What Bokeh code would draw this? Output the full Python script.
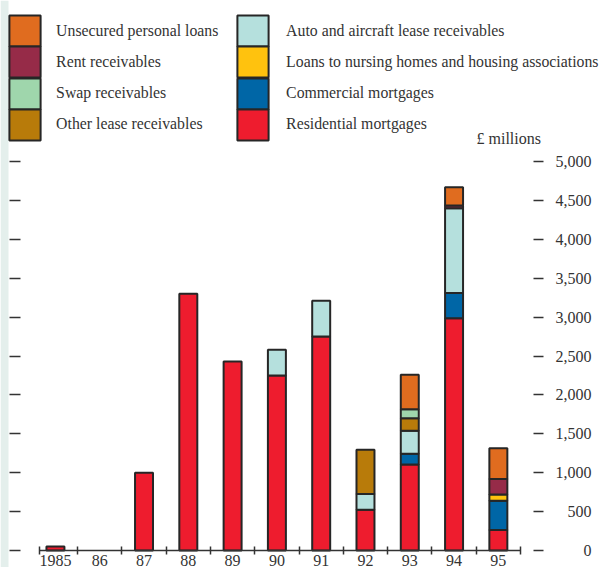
from bokeh.plotting import figure
from bokeh.models import (Range1d, FixedTicker, LinearAxis, Legend, LegendItem, Label,
                          BoxAnnotation, ColumnDataSource)
from bokeh.core.properties import value
from bokeh.transform import stack
from bokeh.embed import file_html
from bokeh.resources import INLINE

# Securitised assets by type, £ millions
years = ["1985", "86", "87", "88", "89", "90", "91", "92", "93", "94", "95"]

residential = [50, 0, 1000, 3300, 2430, 2250, 2750, 525, 1105, 2985, 265]
commercial = [0, 0, 0, 0, 0, 0, 0, 0, 140, 325, 375]
nursing = [0, 0, 0, 0, 0, 0, 0, 0, 0, 0, 80]
auto_aircraft = [0, 0, 0, 0, 0, 330, 460, 200, 295, 1090, 0]
other_lease = [0, 0, 0, 0, 0, 0, 0, 570, 160, 0, 0]
swap = [0, 0, 0, 0, 0, 0, 0, 0, 115, 0, 0]
rent = [0, 0, 0, 0, 0, 0, 0, 0, 0, 35, 200]
unsecured = [0, 0, 0, 0, 0, 0, 0, 0, 445, 235, 395]

y_ticks = [0, 500, 1000, 1500, 2000, 2500, 3000, 3500, 4000, 4500, 5000]

# stacking order, bottom to top
series = [
    ("residential", "Residential mortgages", residential, "#ee1c2e"),
    ("commercial", "Commercial mortgages", commercial, "#0066a6"),
    ("nursing", "Loans to nursing homes and housing associations", nursing, "#ffc20e"),
    ("auto_aircraft", "Auto and aircraft lease receivables", auto_aircraft, "#b5e0dd"),
    ("other_lease", "Other lease receivables", other_lease, "#b87b0a"),
    ("swap", "Swap receivables", swap, "#9fd6ac"),
    ("rent", "Rent receivables", rent, "#962b48"),
    ("unsecured", "Unsecured personal loans", unsecured, "#e06c1f"),
]
labels = {s[0]: s[1] for s in series}
values_of = {s[0]: s[2] for s in series}

# legend layout: two columns, top to bottom
legend_columns = [
    ["unsecured", "rent", "swap", "other_lease"],
    ["auto_aircraft", "nursing", "commercial", "residential"],
]

FONT = "Liberation Serif"
INK = "#333333"
OUTLINE = "#262626"
W, H = 601, 567

# The plot area fills the whole canvas; axes sit at fixed data positions.
# Category axis runs from x0 to x1 (category units) across pixels 39..520,
# the value axis 0..5000 across pixels 550..161.
x0, x1 = -0.36, len(years) - 0.5
px_left, px_right = 39, 520
ux = (x1 - x0) / (px_right - px_left)
py_zero, py_top = 550, 161
uy = 5000 / (py_zero - py_top)

p = figure(width=W, height=H, output_backend="svg", toolbar_location=None,
           x_range=Range1d(x0 - px_left * ux, x1 + (W - px_right) * ux),
           y_range=Range1d(-(H - py_zero) * uy, 5000 + py_top * uy),
           y_axis_location="right", min_border=0)
p.outline_line_color = None
p.grid.visible = False
p.background_fill_color = "white"
p.border_fill_color = "white"

# pale strip along the left edge
p.add_layout(BoxAnnotation(left=0, right=8, left_units="screen", right_units="screen",
                           fill_color="#e4efec", fill_alpha=1.0, line_alpha=0,
                           level="underlay"))

data = {"x": list(range(len(years)))}
for key, _, vals, _ in series:
    data[key] = vals
    # no outline where a segment is empty
    data[key + "_edge"] = [1.0 if v > 0 else 0.0 for v in vals]
source = ColumnDataSource(data)

by_key = {}
done = []
for key, _, vals, color in series:
    r = p.vbar(x="x", width=0.406, bottom=stack(*done), top=stack(*done, key),
               source=source, fill_color=color, line_color=OUTLINE, line_width=2,
               line_alpha=key + "_edge")
    by_key[key] = r
    done.append(key)

# category axis: labels at centres, small ticks between categories
xa = p.xaxis[0]
boundaries = [x0] + [i + 0.5 for i in range(len(years))]
xa.fixed_location = 0
xa.bounds = (x0, x1)
xa.ticker = FixedTicker(ticks=list(range(len(years))), minor_ticks=boundaries)
xa.major_label_overrides = {i: y for i, y in enumerate(years)}
xa.major_tick_out = 0
xa.major_tick_in = 0
xa.minor_tick_in = 4
xa.minor_tick_out = 4
xa.minor_tick_line_color = INK
xa.minor_tick_line_width = 1.5
xa.axis_line_color = INK
xa.axis_line_width = 1.5
xa.major_label_standoff = 0
xa.major_label_text_font = FONT
xa.major_label_text_font_size = "16px"
xa.major_label_text_color = INK

# value axis on the right: tick dashes set off from the bars
ya = p.yaxis[0]
ya.fixed_location = x1
ya.ticker = FixedTicker(ticks=y_ticks)
ya.major_label_overrides = {v: "" for v in y_ticks}
ya.axis_line_color = None
ya.major_tick_in = -13
ya.major_tick_out = 23
ya.major_tick_line_color = INK
ya.major_tick_line_width = 1.5

# right-aligned value labels
tick_src = ColumnDataSource({"y": y_ticks,
                             "text": ["{:,}".format(v) for v in y_ticks],
                             "x": [x1 + (591 - px_right) * ux] * len(y_ticks)})
p.text(x="x", y="y", text="text", source=tick_src, text_font=value(FONT),
       text_font_size="16px", text_color=INK, text_align="right", text_baseline="middle")

# matching tick dashes on the left, without labels
la = LinearAxis(ticker=FixedTicker(ticks=y_ticks),
                major_label_overrides={v: "" for v in y_ticks})
la.fixed_location = x0
la.axis_line_color = None
la.major_tick_in = -19
la.major_tick_out = 30
la.major_tick_line_color = INK
la.major_tick_line_width = 1.5
la.major_label_standoff = 0
p.add_layout(la, "left")

# Legend swatches are drawn inset by 10% of the glyph box, so a 39px box
# gives ~31px swatches. One legend per entry lets the swatches touch.
GLYPH = 39
INSET = GLYPH * 0.1
SWATCH = GLYPH - 2 * INSET
col_swatch_left = [9, 237]
col_text_left = [56, 286]
first_swatch_top = 15

for c, keys in enumerate(legend_columns):
    left = col_swatch_left[c] - INSET
    standoff = round(col_text_left[c] - (left + GLYPH))
    for r, k in enumerate(keys):
        idx = next(i for i, v in enumerate(values_of[k]) if v > 0)
        top = first_swatch_top + r * SWATCH - INSET
        p.add_layout(Legend(
            items=[LegendItem(label=labels[k], renderers=[by_key[k]], index=idx)],
            location=(left, H - (top + GLYPH)), orientation="vertical",
            glyph_width=GLYPH, glyph_height=GLYPH, spacing=0, padding=0, margin=0,
            label_standoff=standoff, label_height=31,
            label_text_font=FONT, label_text_font_size="15.8px",
            label_text_color=INK, border_line_color=None,
            background_fill_alpha=0))

p.add_layout(Label(x=x0 + (476 - px_left) * ux, y=5000 + (py_top - 138) * uy,
                   text="£ millions", text_font=FONT, text_font_size="16px",
                   text_color=INK, text_baseline="middle", text_align="left"))

open("out.html", "w").write(file_html(p, INLINE))
